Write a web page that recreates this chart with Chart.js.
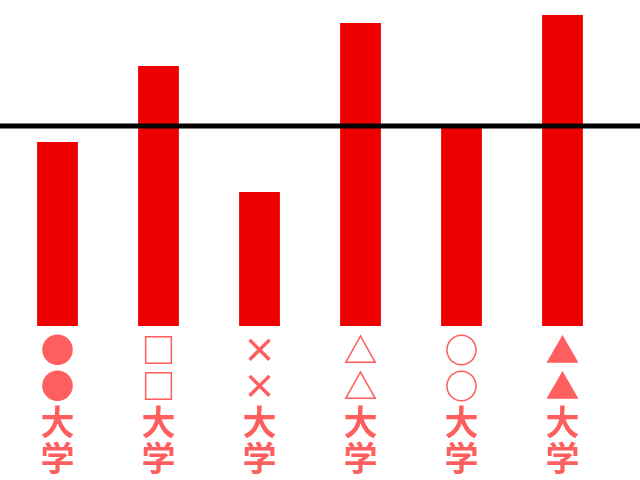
<!DOCTYPE html>
<html>
<head>
<meta charset="utf-8">
<script src="https://cdn.jsdelivr.net/npm/chart.js@4"></script>
<style>
html,body{margin:0;padding:0;background:#fff;}
#wrap{width:640px;height:480px;}
</style>
</head>
<body>
<div id="wrap"><canvas id="c" width="640" height="480"></canvas></div>
<script>
const categories = [
  ['●','●','大','学'],
  ['□','□','大','学'],
  ['×','×','大','学'],
  ['△','△','大','学'],
  ['○','○','大','学'],
  ['▲','▲','大','学']
];
const values = [92, 130, 67, 151.5, 99, 155.5];
const referenceLine = 100;
const yMax = 163;

const refLinePlugin = {
  id: 'refLine',
  afterDatasetsDraw(chart) {
    const y = chart.scales.y.getPixelForValue(referenceLine);
    const ctx = chart.ctx;
    ctx.save();
    ctx.strokeStyle = '#000';
    ctx.lineWidth = 5;
    ctx.beginPath();
    ctx.moveTo(0, y);
    ctx.lineTo(chart.width, y);
    ctx.stroke();
    ctx.restore();
  }
};

new Chart(document.getElementById('c'), {
  type: 'bar',
  data: {
    labels: categories,
    datasets: [{
      data: values,
      backgroundColor: '#ee0000',
      borderWidth: 0,
      barPercentage: 0.8,
      categoryPercentage: 0.505
    }]
  },
  options: {
    responsive: false,
    animation: false,
    devicePixelRatio: 1,
    layout: { padding: { left: 7, right: 27, top: 0, bottom: 0 } },
    plugins: { legend: { display: false }, tooltip: { enabled: false } },
    scales: {
      x: {
        grid: { display: false, drawTicks: false },
        border: { display: false },
        ticks: {
          color: '#ff5e5e',
          padding: 6,
          maxRotation: 0,
          autoSkip: false,
          font: { family: '"Noto Sans CJK JP"', size: 34, weight: 'bold', lineHeight: '36px' }
        },
        afterFit(scale) { scale.height = 154; }
      },
      y: {
        display: false,
        min: 0,
        max: yMax
      }
    }
  },
  plugins: [refLinePlugin]
});
</script>
</body>
</html>
